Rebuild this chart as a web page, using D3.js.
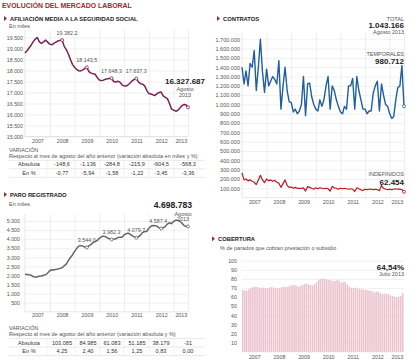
<!DOCTYPE html>
<html>
<head>
<meta charset="utf-8">
<script src="https://cdn.jsdelivr.net/npm/d3@7"></script>
<style>
body { margin: 0; background: #fff; }
svg { display: block; font-family: "Liberation Sans", Arial, sans-serif; }
</style>
</head>
<body>
<svg id="chart" width="414" height="363"></svg>
<script>
// years shown under each chart
const years = [2007, 2008, 2009, 2010, 2011, 2012, 2013];

// Afiliación media a la Seguridad Social (miles), ene 2007 - ago 2013
const afiliacion = [
  18800, 18900, 19020, 19150, 19300, 19430, 19500, 19300, 19230, 19300, 19380, 19290,
  19200, 19170, 19230, 19290, 19340, 19370, 19382.2, 19100, 18950, 18750, 18500, 18280,
  18150, 18050, 17990, 17980, 18030, 18090, 18143.5, 17950, 17880, 17850, 17830, 17680,
  17570, 17540, 17560, 17600, 17630, 17640, 17648.3, 17500, 17480, 17510, 17470, 17350,
  17300, 17290, 17350, 17430, 17530, 17600, 17637.3, 17480, 17400, 17380, 17300, 17100,
  16950, 16930, 16900, 16860, 16950, 17000, 17020, 16850, 16780, 16720, 16500, 16250,
  16200, 16150, 16180, 16280, 16400, 16450, 16440, 16327.687
];
const afiliacionTicks = [15000, 15500, 16000, 16500, 17000, 17500, 18000, 18500, 19000, 19500];
const afiliacionMarks = [
  { i: 18, label: "19.382,2" }, { i: 30, label: "18.143,5" },
  { i: 42, label: "17.648,3" }, { i: 54, label: "17.637,3" }
];
const afiliacionVarAbs = ["-148,6", "-1.136", "-284,8", "-215,9", "-604,5", "-568,3"];
const afiliacionVarPct = ["-0,77", "-5,94", "-1,58", "-1,22", "-3,45", "-3,36"];

// Contratos temporales e indefinidos, ene 2007 - ago 2013
const temporales = [
  1400000, 1220000, 1360000, 1200000, 1440000, 1400000, 1580000, 1150000, 1400000, 1700000, 1350000, 1130000,
  1380000, 1200000, 1250000, 1300000, 1270000, 1220000, 1470000, 950000, 1200000, 1400000, 1150000, 1030000,
  1020000, 920000, 950000, 900000, 930000, 1000000, 1300000, 880000, 1220000, 1230000, 1080000, 1000000,
  950000, 930000, 1050000, 980000, 1050000, 1200000, 1300000, 950000, 1200000, 1150000, 1050000, 980000,
  920000, 900000, 980000, 950000, 1200000, 1200000, 1280000, 950000, 1300000, 1150000, 1050000, 950000,
  950000, 900000, 930000, 930000, 1120000, 1200000, 1250000, 930000, 1220000, 1100000, 1000000, 980000,
  900000, 850000, 870000, 1050000, 1180000, 1200000, 1420000, 980712
];
const indefinidos = [
  265000, 190000, 200000, 180000, 190000, 175000, 165000, 140000, 190000, 240000, 190000, 160000,
  200000, 180000, 190000, 175000, 185000, 165000, 155000, 110000, 150000, 190000, 130000, 110000,
  115000, 100000, 110000, 100000, 100000, 100000, 105000, 70000, 120000, 110000, 100000, 90000,
  105000, 95000, 105000, 100000, 95000, 100000, 95000, 70000, 120000, 105000, 100000, 90000,
  100000, 95000, 100000, 95000, 90000, 95000, 90000, 65000, 105000, 95000, 85000, 75000,
  90000, 85000, 90000, 90000, 85000, 90000, 85000, 75000, 130000, 100000, 90000, 85000,
  90000, 85000, 90000, 95000, 90000, 90000, 85000, 62454
];
const contratosTicks = [100000, 200000, 300000, 400000, 500000, 600000, 700000, 800000, 900000,
  1000000, 1100000, 1200000, 1300000, 1400000, 1500000, 1600000, 1700000];

// Paro registrado (miles), ene 2007 - ago 2013
const paro = [
  2074, 2058, 2035, 2017, 1941, 1908, 1925, 1956, 1972, 2016, 2039, 2130,
  2261, 2315, 2301, 2338, 2353, 2390, 2426, 2530, 2625, 2818, 2989, 3128,
  3327, 3481, 3605, 3644, 3620, 3565, 3544.0, 3629, 3709, 3808, 3868, 3924,
  4048, 4130, 4166, 4142, 4066, 4020, 3982.3, 4000, 4017, 4086, 4110, 4100,
  4231, 4299, 4334, 4269, 4190, 4122, 4079.7, 4130, 4226, 4361, 4420, 4422,
  4600, 4712, 4751, 4744, 4714, 4615, 4587.4, 4626, 4705, 4834, 4908, 4848,
  4981, 5040, 5035, 4989, 4890, 4763, 4698.8, 4698.783
];
const paroTicks = [500, 1000, 1500, 2000, 2500, 3000, 3500, 4000, 4500, 5000];
const paroMarks = [
  { i: 30, label: "3.544,0" }, { i: 42, label: "3.982,3" },
  { i: 54, label: "4.079,7" }, { i: 66, label: "4.587,4" }
];
const paroVarAbs = ["103.085", "84.985", "61.083", "51.185", "38.179", "-31"];
const paroVarPct = ["4,25", "2,40", "1,56", "1,25", "0,83", "0,00"];

// Cobertura (%), ene 2007 - jul 2013
const cobertura = [
  68, 67.5, 67, 68.5, 70, 71, 71.5, 71, 70.5, 70, 70.5, 70,
  70, 70.5, 71, 70.5, 70, 69.5, 70, 71, 71.5, 71, 71.5, 72.5,
  73, 73.5, 72.5, 71.5, 72, 73.5, 74, 75, 74, 73.5, 73, 74.5,
  76.5, 79, 80, 80.5, 80, 79.5, 79, 78.5, 77.5, 78, 79, 78,
  76, 76.5, 77, 74, 71.5, 70.5, 70, 70.5, 69.5, 69, 68.5, 68,
  68, 67.5, 67, 66.5, 65, 66, 66, 64.5, 63.5, 64, 63.5, 63.5,
  62, 61.5, 60.5, 60, 60.5, 61, 64.54
];
const coberturaTicks = [10, 20, 30, 40, 50, 60, 70, 80, 90, 100];

const RED = "#a0282e";
const svg = d3.select("#chart");
svg.append("rect").attr("width", 414).attr("height", 363).attr("fill", "#fff");

const es = d3.formatLocale({ decimal: ",", thousands: ".", grouping: [3], currency: ["", " €"] });
const fmtInt = es.format(",");

const months = d3.timeMonth.range(new Date(2007, 0, 1), new Date(2013, 8, 1));
const first = months[0], last = months[months.length - 1];
const xL = d3.scaleTime().domain([first, last]).range([25, 188]);
const xR = d3.scaleTime().domain([first, last]).range([242, 404]);

const yearStarts = years.slice(1).map(y => new Date(y, 0, 1));
const yearMids = years.map(y => {
  const a = new Date(y, 0, 1), b = y === 2013 ? last : new Date(y + 1, 0, 1);
  return new Date((+a + +b) / 2);
});

function txt(x, y, s, o = {}) {
  return svg.append("text").attr("x", x).attr("y", y).text(s)
    .attr("font-size", o.size || 5.5)
    .attr("font-weight", o.bold ? "bold" : null)
    .attr("fill", o.fill || "#555")
    .attr("text-anchor", o.anchor || "start");
}

function header(x, y, s) {
  svg.append("path").attr("d", `M${x},${y - 5}L${x + 3},${y - 2.5}L${x},${y}Z`).attr("fill", RED);
  txt(x + 6, y, s, { size: 5.8, bold: true, fill: "#222" });
}

function frame(x, y, ticks, top, pad, yearY, vgrid, fs) {
  const [x0, x1] = x.range();
  const bottom = y.range()[0];
  const ax = svg.append("g").attr("transform", `translate(${x0},0)`)
    .call(d3.axisLeft(y).tickValues(ticks).tickSize(-(x1 - x0)).tickPadding(pad).tickFormat(fmtInt));
  ax.select(".domain").remove();
  ax.selectAll(".tick line").attr("stroke", "#e6e6e6").attr("stroke-width", 0.6);
  ax.selectAll(".tick text").attr("font-size", fs || 5.3).attr("fill", "#555").attr("font-family", null);
  if (vgrid) {
    const vg = svg.append("g").attr("transform", `translate(0,${bottom})`)
      .call(d3.axisBottom(x).tickValues(yearStarts.concat([last])).tickSize(-(bottom - top)).tickFormat(""));
    vg.select(".domain").remove();
    vg.selectAll(".tick line").attr("stroke", "#e3e3e3").attr("stroke-width", 0.6);
    svg.append("line").attr("x1", x0).attr("x2", x0).attr("y1", top).attr("y2", bottom)
      .attr("stroke", "#d6d6d6").attr("stroke-width", 0.6);
  }
  svg.append("line").attr("x1", x0).attr("x2", x1).attr("y1", bottom).attr("y2", bottom)
    .attr("stroke", "#d6d6d6").attr("stroke-width", 0.6);
  const yl = svg.append("g").attr("transform", `translate(0,${yearY})`)
    .call(d3.axisBottom(x).tickValues(yearMids).tickSize(0).tickPadding(0).tickFormat(d3.timeFormat("%Y")));
  yl.select(".domain").remove();
  yl.selectAll(".tick text").attr("font-size", 5.3).attr("fill", "#555").attr("dy", 0).attr("font-family", null);
}

function table(yVar, respecto, abs, pct) {
  txt(9, yVar, "VARIACIÓN", { size: 5.4 });
  txt(9, yVar + 6, respecto, { size: 5.5 });
  const r0 = yVar + 8.3, r1 = r0 + 8.5, r2 = r1 + 8.5;
  [r0, r1, r2].forEach(yy => svg.append("line").attr("x1", 9).attr("x2", 205).attr("y1", yy).attr("y2", yy)
    .attr("stroke", "#d0d0d0").attr("stroke-width", 0.5));
  [47, 75, 100, 124, 149, 174].forEach(xx => svg.append("line").attr("x1", xx).attr("x2", xx)
    .attr("y1", r0).attr("y2", r2).attr("stroke", "#e2e2e2").attr("stroke-width", 0.5));
  const cols = [62, 88, 112, 137, 161, 188];
  txt(29, r0 + 6, "Absoluta", { anchor: "middle", fill: "#333", size: 5.6 });
  txt(29, r1 + 6, "En %", { anchor: "middle", fill: "#333", size: 5.6 });
  abs.forEach((s, k) => txt(cols[k], r0 + 6, s, { anchor: "middle", fill: "#333", size: 5.6 }));
  pct.forEach((s, k) => txt(cols[k], r1 + 6, s, { anchor: "middle", fill: "#333", size: 5.6 }));
}

function marker(x, y, color) {
  svg.append("circle").attr("cx", x).attr("cy", y).attr("r", 1.5)
    .attr("fill", "#fff").attr("stroke", color).attr("stroke-width", 0.8);
}

// ---- title
txt(2, 8, "EVOLUCIÓN DEL MERCADO LABORAL", { size: 6.9, bold: true, fill: RED });

// ---- afiliación
header(4, 21, "AFILIACIÓN MEDIA A LA SEGURIDAD SOCIAL");
txt(9, 28, "En miles");
const yA = d3.scaleLinear().domain([15000, 19500]).range([136.5, 37.5]);
frame(xL, yA, afiliacionTicks, 30, 2, 142.5, true);
const afColor = "#7b2250";
svg.append("path").datum(afiliacion)
  .attr("d", d3.line().x((d, i) => xL(months[i])).y(d => yA(d)))
  .attr("fill", "none").attr("stroke", afColor).attr("stroke-width", 1.5).attr("stroke-linejoin", "round");
afiliacionMarks.forEach(m => {
  const px = xL(months[m.i]), py = yA(afiliacion[m.i]);
  marker(px, py, afColor);
  txt(px + (m.i === 18 ? 5 : 0), py - 5, m.label, { anchor: "middle", size: 5.4 });
});
{
  const i = afiliacion.length - 1;
  marker(xL(months[i]), yA(afiliacion[i]), afColor);
}
txt(205, 83.5, fmtInt(16327687), { anchor: "end", size: 8, bold: true, fill: "#222" });
txt(185, 91, "Agosto", { anchor: "middle" });
txt(185, 96.5, "2013", { anchor: "middle" });
table(152, "Respecto al mes de agosto del año anterior (variación absoluta en miles y %)",
  afiliacionVarAbs, afiliacionVarPct);

// ---- contratos
header(217, 21, "CONTRATOS");
const yC = d3.scaleLinear().domain([0, 1700000]).range([197.6, 39.3]);
frame(xR, yC, contratosTicks, 33, 2, 204, true, 5.5);
const lineC = d3.line().x((d, i) => xR(months[i])).y(d => yC(d));
svg.append("path").datum(indefinidos).attr("d", lineC)
  .attr("fill", "none").attr("stroke", "#c0161e").attr("stroke-width", 1.2).attr("stroke-linejoin", "round");
svg.append("path").datum(temporales).attr("d", lineC)
  .attr("fill", "none").attr("stroke", "#1f5f9f").attr("stroke-width", 1.4).attr("stroke-linejoin", "round");
marker(xR(last), yC(temporales[temporales.length - 1]), "#1f5f9f");
marker(xR(last), yC(indefinidos[indefinidos.length - 1]), "#c0161e");
txt(404, 21, "TOTAL", { anchor: "end" });
txt(404, 27.8, fmtInt(1043166), { anchor: "end", size: 8, bold: true, fill: "#222" });
txt(404, 33.7, "Agosto 2013", { anchor: "end" });
txt(404, 56, "TEMPORALES", { anchor: "end" });
txt(404, 64.3, fmtInt(980712), { anchor: "end", size: 8, bold: true, fill: "#222" });
txt(404, 176.3, "INDEFINIDOS", { anchor: "end" });
txt(404, 184.5, fmtInt(62454), { anchor: "end", size: 8, bold: true, fill: "#222" });

// ---- paro
header(4, 197, "PARO REGISTRADO");
txt(9, 206, "En miles");
const yP = d3.scaleLinear().domain([0, 5000]).range([311.8, 221]);
frame(xL, yP, paroTicks, 214, 5, 316.5, true);
svg.append("path").datum(paro)
  .attr("d", d3.line().x((d, i) => xL(months[i])).y(d => yP(d)))
  .attr("fill", "none").attr("stroke", "#666").attr("stroke-width", 1.5).attr("stroke-linejoin", "round");
paroMarks.forEach(m => {
  const px = xL(months[m.i]), py = yP(paro[m.i]);
  marker(px, py, "#666");
  txt(px - (m.i === 66 ? 3 : 0), py - 5.5, m.label, { anchor: "middle", size: 5.4 });
});
marker(xL(last), yP(paro[paro.length - 1]), "#666");
txt(192, 208.3, fmtInt(4698783), { anchor: "end", size: 8.6, bold: true, fill: "#222" });
txt(183, 215.8, "Agosto", { anchor: "middle" });
txt(183, 221.3, "2013", { anchor: "middle" });
table(330.3, "Respecto al mes de agosto del año anterior (variación absoluta y %)",
  paroVarAbs, paroVarPct);

// ---- cobertura
header(212, 241.3, "COBERTURA");
txt(220, 250.3, "% de parados que cobran prestación o subsidio", { size: 5.5 });
const yB = d3.scaleLinear().domain([0, 100]).range([351.8, 260.7]);
frame(xR, yB, coberturaTicks, 260.7, 5, 359, false);
const bw = (xR(months[1]) - xR(months[0])) * 0.75;
svg.append("g").selectAll("rect").data(cobertura).join("rect")
  .attr("x", (d, i) => xR(months[i]))
  .attr("y", d => yB(d))
  .attr("width", bw)
  .attr("height", d => yB(0) - yB(d))
  .attr("fill", "#ebc3cf");
txt(404, 269.8, "64,54%", { anchor: "end", size: 8, bold: true, fill: "#222" });
txt(404, 276.3, "Julio 2013", { anchor: "end" });
</script>
</body>
</html>
